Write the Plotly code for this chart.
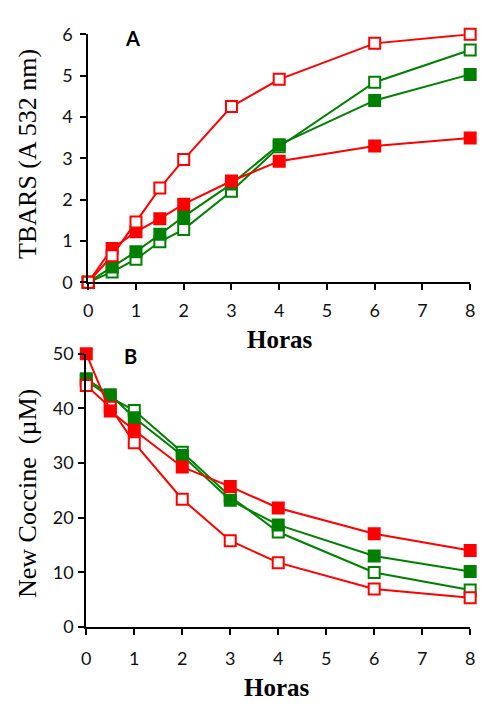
import plotly.graph_objects as go

# Time points (hours)
horas = [0, 0.5, 1, 1.5, 2, 3, 4, 6, 8]
horas_b = [0, 0.5, 1, 2, 3, 4, 6, 8]

# Panel A: TBARS absorbance at 532 nm
tbars_red_open = [0, 0.64, 1.46, 2.28, 2.97, 4.25, 4.91, 5.78, 6.0]
tbars_red_fill = [0, 0.82, 1.22, 1.54, 1.89, 2.45, 2.93, 3.30, 3.49]
tbars_green_fill = [0, 0.37, 0.74, 1.16, 1.59, 2.38, 3.33, 4.40, 5.03]
tbars_green_open = [0, 0.25, 0.56, 0.98, 1.28, 2.20, 3.28, 4.84, 5.62]

# Panel B: New Coccine concentration (uM)
nc_red_fill = [50.0, 39.5, 36.0, 29.3, 25.7, 21.8, 17.1, 14.0]
nc_red_open = [44.2, 40.2, 33.7, 23.4, 15.8, 11.8, 7.0, 5.4]
nc_green_fill = [45.4, 42.5, 38.3, 31.4, 23.2, 18.7, 13.0, 10.2]
nc_green_open = [45.1, 42.0, 39.6, 32.0, 23.9, 17.4, 10.0, 6.8]

RED = "#FF0000"
GREEN = "#008000"

fig = go.Figure()


def add_series(x, y, color, filled, xa, ya):
    fig.add_trace(go.Scatter(
        x=x, y=y, mode="lines+markers", xaxis=xa, yaxis=ya,
        line=dict(color=color, width=2),
        marker=dict(symbol="square", size=11,
                    color=color if filled else "white",
                    line=dict(color=color, width=2)),
        cliponaxis=False, showlegend=False,
    ))


add_series(horas, tbars_green_open, GREEN, False, "x", "y")
add_series(horas, tbars_green_fill, GREEN, True, "x", "y")
add_series(horas, tbars_red_fill, RED, True, "x", "y")
add_series(horas, tbars_red_open, RED, False, "x", "y")

add_series(horas_b, nc_green_open, GREEN, False, "x2", "y2")
add_series(horas_b, nc_green_fill, GREEN, True, "x2", "y2")
add_series(horas_b, nc_red_open, RED, False, "x2", "y2")
add_series(horas_b, nc_red_fill, RED, True, "x2", "y2")

W, H = 483, 705
tick_font = dict(family="Lato", size=18, color="#111")
axis_common = dict(showline=True, linecolor="black", linewidth=2,
                   ticks="outside", ticklen=6, tickwidth=2, tickcolor="black",
                   showgrid=False, zeroline=False, tickfont=tick_font)

fig.update_layout(
    width=W, height=H, margin=dict(l=0, r=0, t=0, b=0),
    paper_bgcolor="white", plot_bgcolor="white",
    xaxis=dict(domain=[85 / W, 475 / W], range=[0, 8], dtick=1,
               anchor="y", ticklabelstandoff=5, **axis_common),
    yaxis=dict(domain=[1 - 279 / H, 1 - 23 / H], range=[0, 6], dtick=1,
               anchor="x", ticklabelstandoff=4, **axis_common),
    xaxis2=dict(domain=[83 / W, 475 / W], range=[0, 8], dtick=1,
                anchor="y2", ticklabelstandoff=8, **axis_common),
    yaxis2=dict(domain=[1 - 635 / H, 1 - 352.7 / H], range=[0, 50], dtick=10,
                anchor="x2", ticklabelstandoff=1, **axis_common),
)

serif = "Liberation Serif"
annotations = [
    dict(text="<b>A</b>", x=130 / W, y=1 - 27 / H, font=dict(family="Lato", size=20, color="black")),
    dict(text="<b>B</b>", x=128 / W, y=1 - 355 / H, font=dict(family="Lato", size=20, color="black")),
    dict(text="<b>Horas</b>", x=281 / W, y=1 - 338 / H, font=dict(family=serif, size=25, color="black")),
    dict(text="<b>Horas</b>", x=278 / W, y=1 - 697 / H, font=dict(family=serif, size=25, color="black")),
    dict(text="TBARS (A 532 nm)", x=23 / W, y=1 - 147 / H, textangle=-90,
         font=dict(family=serif, size=26, color="black")),
    dict(text="New Coccine  (µM)", x=23 / W, y=1 - 497 / H, textangle=-90,
         font=dict(family=serif, size=26, color="black")),
]
for a in annotations:
    fig.add_annotation(xref="paper", yref="paper", showarrow=False,
                       xanchor="center", yanchor="middle", **a)

fig.write_html("out.html")
